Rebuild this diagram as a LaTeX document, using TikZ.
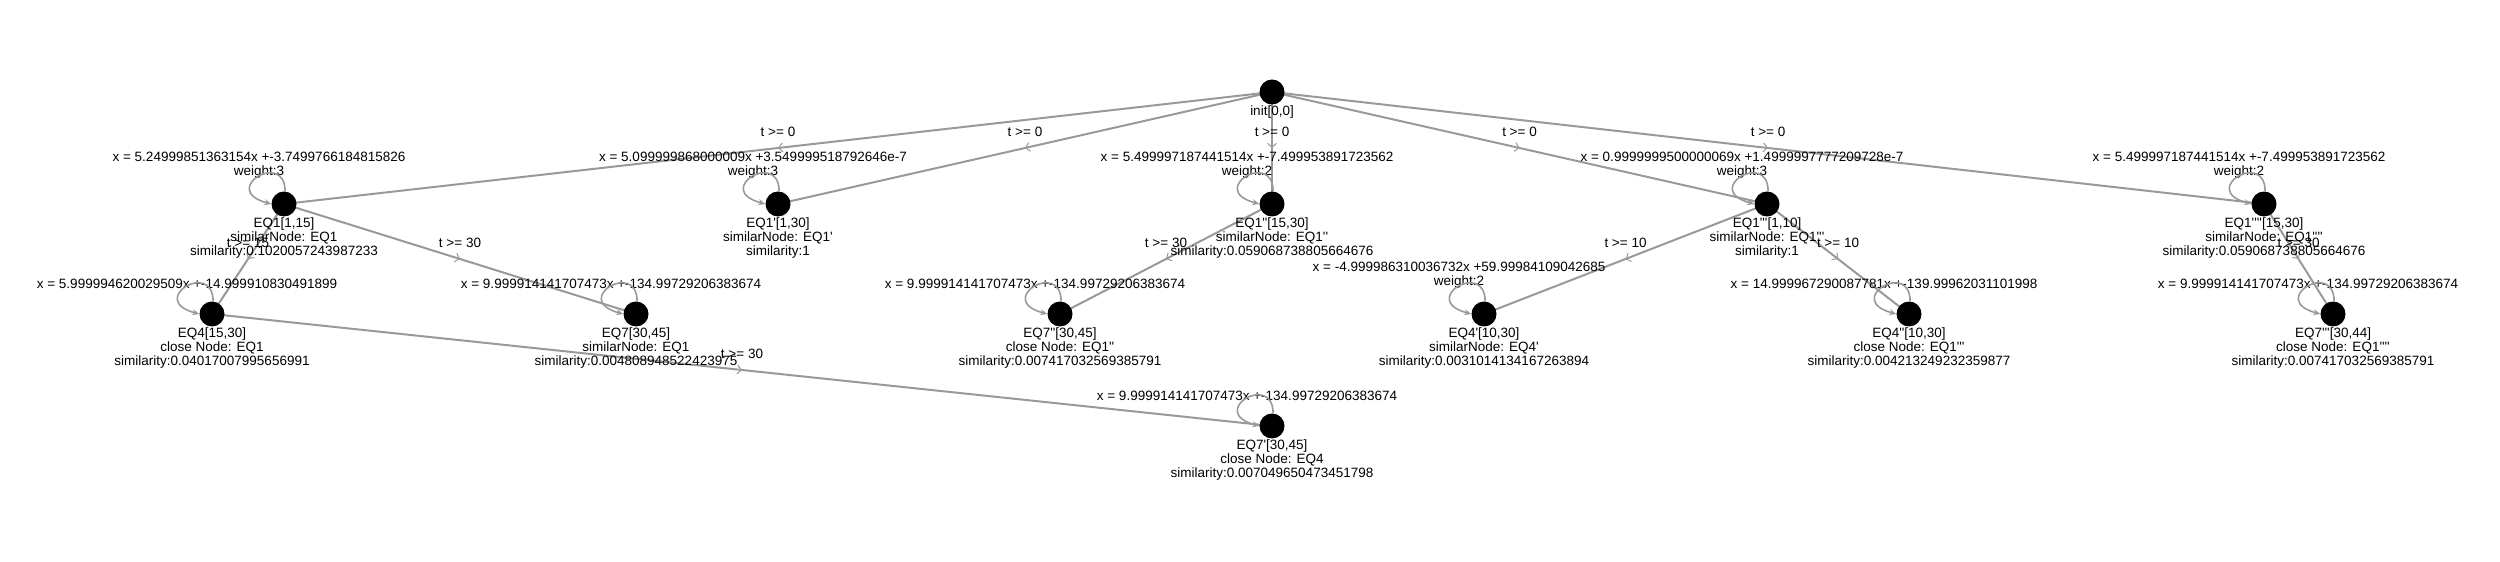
\documentclass[tikz,border=0pt]{standalone}
\usepackage{fontspec}
\newfontfamily\graphfont{Liberation Sans}
\usetikzlibrary{arrows.meta,decorations.markings}
\definecolor{linegray}{HTML}{999999}
\pgfdeclarelayer{background}
\pgfsetlayers{background,main}

\begin{document}
\begin{tikzpicture}[x=1pt, y=1pt,
  every node/.style={font=\graphfont\fontsize{13.5}{14}\selectfont, text=black},
  dot/.style={circle, fill=black, minimum size=25pt, inner sep=0pt},
  edge/.style={draw=linegray, line width=2pt, postaction={decorate, decoration={markings,
      mark=at position 0.5 with {\arrow{Straight Barb[length=4pt, width=9pt, line width=1pt]}}}}},
  selfloop/.style={draw=linegray, line width=1.6pt, -{Stealth[length=7pt, width=6pt]}},
  elabel/.style={yshift=16pt, inner sep=0pt},
  eqlabel/.style={anchor=south, align=center, inner sep=0pt, xshift=-25pt, yshift=25pt},
  infolabel/.style={anchor=north, align=center, inner sep=0pt, yshift=-14pt}]
\useasboundingbox (0,0) rectangle (2500,562);

\node[dot] (init) at (1272,470) {};
\node[infolabel] (init-info) at (init) {init[0,0]};

\foreach \nm/\x/\y/\eqtext/\infotext in {
  eq1/284/358/{x = 5.24999851363154x +-3.7499766184815826\\weight:3}/{EQ1[1,15]\\similarNode: EQ1\\similarity:0.1020057243987233},
  eq1p/778/358/{x = 5.099999868000009x +3.549999518792646e-7\\weight:3}/{EQ1'[1,30]\\similarNode: EQ1'\\similarity:1},
  eq1pp/1272/358/{x = 5.499997187441514x +-7.499953891723562\\weight:2}/{EQ1''[15,30]\\similarNode: EQ1''\\similarity:0.059068738805664676},
  eq1ppp/1767/358/{x = 0.9999999500000069x +1.4999997777209728e-7\\weight:3}/{EQ1'''[1,10]\\similarNode: EQ1'''\\similarity:1},
  eq1pppp/2264/358/{x = 5.499997187441514x +-7.499953891723562\\weight:2}/{EQ1''''[15,30]\\similarNode: EQ1''''\\similarity:0.059068738805664676},
  eq4/212/248/{x = 5.999994620029509x +-14.999910830491899}/{EQ4[15,30]\\close Node: EQ1\\similarity:0.04017007995656991},
  eq7/636/248/{x = 9.999914141707473x +-134.99729206383674}/{EQ7[30,45]\\similarNode: EQ1\\similarity:0.004808948522423975},
  eq7pp/1060/248/{x = 9.999914141707473x +-134.99729206383674}/{EQ7''[30,45]\\close Node: EQ1''\\similarity:0.007417032569385791},
  eq4p/1484/248/{x = -4.999986310036732x +59.99984109042685\\weight:2}/{EQ4'[10,30]\\similarNode: EQ4'\\similarity:0.0031014134167263894},
  eq4pp/1909/248/{x = 14.999967290087781x +-139.99962031101998}/{EQ4''[10,30]\\close Node: EQ1'''\\similarity:0.004213249232359877},
  eq7ppp/2333/248/{x = 9.999914141707473x +-134.99729206383674}/{EQ7'''[30,44]\\close Node: EQ1''''\\similarity:0.007417032569385791},
  eq7p/1272/136/{x = 9.999914141707473x +-134.99729206383674}/{EQ7'[30,45]\\close Node: EQ4\\similarity:0.007049650473451798}} {
  \node[dot] (\nm) at (\x,\y) {};
  \node[eqlabel] (\nm-eq) at (\nm) {\eqtext};
  \node[infolabel] (\nm-info) at (\nm) {\infotext};
  \draw[selfloop] (\nm.85) .. controls +(90:42) and +(165:55) .. (\nm.west);
}

\begin{pgfonlayer}{background}
\foreach \a/\b/\tmin in {init/eq1/0, init/eq1p/0, init/eq1pp/0, init/eq1ppp/0, init/eq1pppp/0,
    eq1/eq4/15, eq1/eq7/30, eq4/eq7p/30, eq1pp/eq7pp/30, eq1ppp/eq4p/10, eq1ppp/eq4pp/10, eq1pppp/eq7ppp/30} {
  \draw[edge] (\a.center) -- node[elabel] (\b-t) {t >= \tmin} (\b.center);
}
\end{pgfonlayer}
\end{tikzpicture}
\end{document}
